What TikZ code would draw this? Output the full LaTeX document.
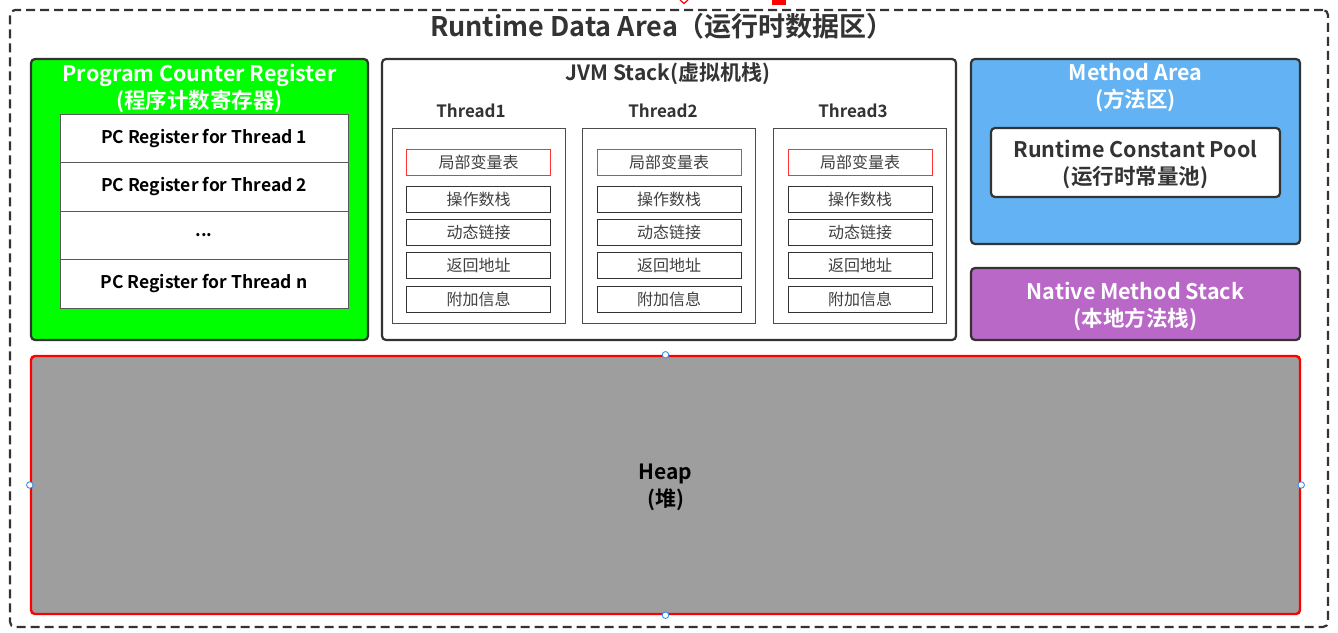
\documentclass[tikz,border=0pt]{standalone}
\usepackage{fontspec}
\setmainfont{Noto Sans CJK SC}[BoldFont={Noto Sans CJK SC Bold}]
\usetikzlibrary{positioning}
\usepackage{xcolor}
\definecolor{boxline}{HTML}{333333}
\definecolor{pcgreen}{HTML}{00FF00}
\definecolor{areablue}{HTML}{63B3F4}
\definecolor{nativepurple}{HTML}{B968C7}
\definecolor{heapgray}{HTML}{9E9E9E}
\definecolor{heapred}{HTML}{FF0000}
\definecolor{handleblue}{HTML}{3C8FE6}

\begin{document}
\begin{tikzpicture}[x=1pt, y=-1pt,
  area/.style={rectangle, draw=boxline, line width=2.2pt, rounded corners=4pt,
               inner sep=0pt},
  head/.style={align=center, text=white,
               font=\fontsize{21.5}{27}\selectfont\bfseries},
  darkhead/.style={align=center, text=boxline,
               font=\fontsize{21}{27}\selectfont\bfseries},
  pcrow/.style={rectangle, draw=black!65, line width=1pt, fill=white,
                minimum width=288pt, minimum height=48.5pt,
                font=\fontsize{17.5}{19}\selectfont\bfseries},
  thread/.style={rectangle, draw=black!70, line width=1pt,
                 minimum width=173pt, minimum height=195pt},
  tlabel/.style={font=\fontsize{17}{19}\selectfont\bfseries, text=boxline},
  frame/.style={rectangle, draw=boxline, line width=1pt, fill=white,
                minimum width=144pt, minimum height=26pt,
                font=\fontsize{16}{17}\selectfont, text=black!75},
  handle/.style={circle, draw=handleblue, fill=white, line width=0.9pt,
                 inner sep=0pt, minimum size=6.5pt}
]
\useasboundingbox (0,0) rectangle (1338,632);

% outer area
\node[rectangle, draw=boxline, line width=2.2pt, dash pattern=on 9pt off 5pt,
      rounded corners=5pt, minimum width=1318pt, minimum height=617pt]
  (rda) at (669,318.5) {};
\node[font=\fontsize{27}{29}\selectfont\bfseries, text=boxline] (title) at (662,26.5)
  {Runtime Data Area（运行时数据区）};
\fill[heapred] (772,0) rectangle (786,5);
\draw[heapred, line width=1.2pt] (680,0) -- (684,3.5) -- (688,0);

% program counter register
\node[area, fill=pcgreen, minimum width=337pt, minimum height=281pt] (pc) at (199.5,199.5) {};
\node[head] (pctitle) at (199.5,88) {Program Counter Register\\(程序计数寄存器)};
\node[pcrow] (pc1) at (204,138.25) {PC Register for Thread 1};
\node[pcrow] (pc2) at (204,186.75) {PC Register for Thread 2};
\node[pcrow] (pcdots) at (204,235.25) {...};
\node[pcrow] (pcn) at (204,283.75) {PC Register for Thread n};

% jvm stack
\node[area, fill=white, minimum width=574pt, minimum height=281pt] (jvm) at (669,199.5) {};
\node[darkhead] (jvmtitle) at (668,73.5) {JVM Stack(虚拟机栈)};

\node[tlabel] (t1label) at (471,111) {Thread1};
\node[tlabel] (t2label) at (663,111) {Thread2};
\node[tlabel] (t3label) at (853,111) {Thread3};

\node[thread] (t1) at (478.5,225.5) {};
\node[thread] (t2) at (669,225.5) {};
\node[thread] (t3) at (860,225.5) {};

\node[frame, draw=heapred!80] (t1lv) at (478.5,162) {局部变量表};
\node[frame] (t1os) at (478.5,199) {操作数栈};
\node[frame] (t1dl) at (478.5,232) {动态链接};
\node[frame] (t1ra) at (478.5,265.5) {返回地址};
\node[frame] (t1ai) at (478.5,299) {附加信息};

\node[frame, draw=heapred!80] (t2lv) at (669,162) {局部变量表};
\node[frame] (t2os) at (669,199) {操作数栈};
\node[frame] (t2dl) at (669,232) {动态链接};
\node[frame] (t2ra) at (669,265.5) {返回地址};
\node[frame] (t2ai) at (669,299) {附加信息};

\node[frame, draw=heapred!80] (t3lv) at (860,162) {局部变量表};
\node[frame] (t3os) at (860,199) {操作数栈};
\node[frame] (t3dl) at (860,232) {动态链接};
\node[frame] (t3ra) at (860,265.5) {返回地址};
\node[frame] (t3ai) at (860,299) {附加信息};

% method area
\node[area, fill=areablue, minimum width=329pt, minimum height=185pt] (method) at (1135.5,151.5) {};
\node[head] (methodtitle) at (1135.5,87.5) {Method Area\\(方法区)};
\node[area, fill=white, minimum width=289pt, minimum height=69pt] (rcp) at (1135.5,162.5) {};
\node[darkhead, font=\fontsize{21.5}{27}\selectfont\bfseries] (rcptext) at (1135.5,164)
  {Runtime Constant Pool\\(运行时常量池)};

% native method stack
\node[area, fill=nativepurple, minimum width=329pt, minimum height=72pt] (native) at (1135.5,304) {};
\node[head] (nativetext) at (1135.5,306) {Native Method Stack\\(本地方法栈)};

% heap
\node[rectangle, draw=heapred, line width=2.4pt, rounded corners=4pt, fill=heapgray,
      minimum width=1269pt, minimum height=258pt] (heap) at (665.5,485) {};
\node[align=center, font=\fontsize{21}{27}\selectfont\bfseries, text=black]
  (heaptext) at (665.5,487) {Heap\\(堆)};
\node[handle] (hn) at (heap.north) {};
\node[handle] (hs) at (heap.south) {};
\node[handle] (hw) at (heap.west) {};
\node[handle] (he) at (heap.east) {};

\end{tikzpicture}
\end{document}
